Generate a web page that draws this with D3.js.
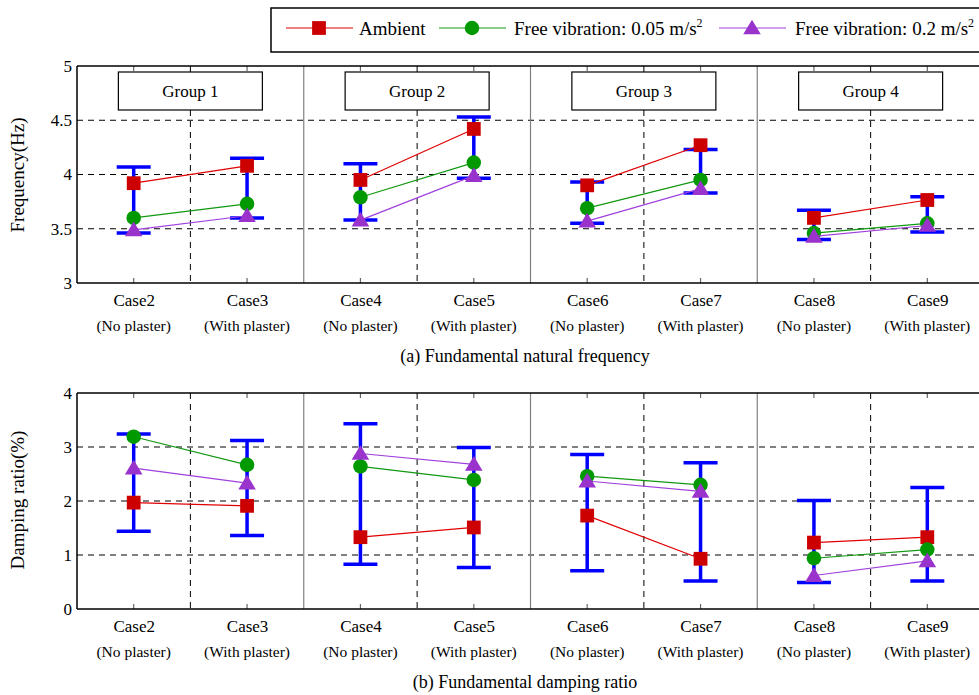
<!DOCTYPE html>
<html><head><meta charset="utf-8">
<script src="https://cdn.jsdelivr.net/npm/d3@7"></script>
<style>body{margin:0;background:#fff}svg{display:block}svg text{font-family:"Liberation Serif",Tinos,"Times New Roman",Times,"Nimbus Roman","DejaVu Serif",serif;fill:#000}</style>
</head><body>
<svg id="chart" width="979" height="695"></svg>
<script>
const categories = ["Case2","Case3","Case4","Case5","Case6","Case7","Case8","Case9"];
const subLabels = ["(No plaster)","(With plaster)","(No plaster)","(With plaster)","(No plaster)","(With plaster)","(No plaster)","(With plaster)"];
const groups = ["Group 1","Group 2","Group 3","Group 4"];
const seriesNames = ["Ambient","Free vibration: 0.05 m/s","Free vibration: 0.2 m/s"];

const freqAmbient = [3.92,4.08,3.95,4.42,3.90,4.27,3.60,3.765];
const freqFree005 = [3.60,3.73,3.79,4.11,3.69,3.95,3.46,3.55];
const freqFree02  = [3.49,3.62,3.58,3.99,3.57,3.87,3.43,3.53];
const freqErrHigh = [4.07,4.15,4.10,4.53,3.93,4.23,3.67,3.795];
const freqErrLow  = [3.46,3.60,3.58,3.965,3.55,3.83,3.40,3.47];

const dampAmbient = [1.97,1.91,1.33,1.51,1.73,0.93,1.23,1.33];
const dampFree005 = [3.19,2.67,2.64,2.39,2.46,2.30,0.94,1.10];
const dampFree02  = [2.61,2.33,2.88,2.68,2.37,2.18,0.62,0.89];
const dampErrHigh = [3.24,3.12,3.43,2.99,2.86,2.71,2.01,2.25];
const dampErrLow  = [1.44,1.36,0.83,0.77,0.71,0.52,0.49,0.52];

const freqTicks = [3,3.5,4,4.5,5];
const freqTickLabels = ["3","3.5","4","4.5","5"];
const dampTicks = [0,1,2,3,4];
const dampTickLabels = ["0","1","2","3","4"];

const colors = ["#cc0000","#009900","#9933cc"];
const lineColors = ["#e00000","#119911","#a040dd"];
const errColor = "#0000ff";
const FONT = '"Liberation Serif", Tinos, "Times New Roman", Times, "DejaVu Serif", serif';

const svg = d3.select("#chart");
const x = d3.scaleLinear().domain([-0.5, 7.5]).range([77, 984]);

const triType = { draw(ctx, size){ const s = Math.sqrt(size); ctx.moveTo(0,-s*0.55); ctx.lineTo(s*0.58,s*0.42); ctx.lineTo(-s*0.58,s*0.42); ctx.closePath(); } };
const symbols = [d3.symbolSquare, d3.symbolCircle, triType];
const symSizes = [190, 165, 230];

function panel(cfg){
  const y = d3.scaleLinear().domain(cfg.domain).range([cfg.bottom, cfg.top]);
  const g = svg.append("g").attr("font-family", FONT);
  const L = 77, R = 984;
  g.selectAll(".hg").data(cfg.ticks.slice(1,-1)).enter().append("line")
    .attr("x1",L).attr("x2",R).attr("y1",d=>y(d)).attr("y2",d=>y(d))
    .attr("stroke","#000").attr("stroke-width",1).attr("stroke-dasharray","6,5");
  [1,3,5,7].forEach(i=>{
    g.append("line").attr("x1",x(i-0.5)).attr("x2",x(i-0.5)).attr("y1",cfg.top).attr("y2",cfg.bottom)
      .attr("stroke","#000").attr("stroke-width",1).attr("stroke-dasharray","6,5");
  });
  [2,4,6].forEach(i=>{
    g.append("line").attr("x1",x(i-0.5)).attr("x2",x(i-0.5)).attr("y1",cfg.top).attr("y2",cfg.bottom)
      .attr("stroke","#808080").attr("stroke-width",1.2);
  });
  categories.forEach((c,i)=>{
    g.append("line").attr("x1",x(i)).attr("x2",x(i)).attr("y1",cfg.top).attr("y2",cfg.top+5).attr("stroke","#666").attr("stroke-width",1.2);
    g.append("line").attr("x1",x(i)).attr("x2",x(i)).attr("y1",cfg.bottom).attr("y2",cfg.bottom-5).attr("stroke","#666").attr("stroke-width",1.2);
  });
  g.append("line").attr("x1",L).attr("x2",R).attr("y1",cfg.top).attr("y2",cfg.top).attr("stroke","#000").attr("stroke-width",1.3);
  g.append("line").attr("x1",L).attr("x2",R).attr("y1",cfg.bottom).attr("y2",cfg.bottom).attr("stroke","#000").attr("stroke-width",1.5);
  g.append("line").attr("x1",L).attr("x2",L).attr("y1",cfg.top).attr("y2",cfg.bottom).attr("stroke","#000").attr("stroke-width",1.5);

  const ya = g.append("g").attr("transform",`translate(${L},0)`)
    .call(d3.axisLeft(y).tickValues(cfg.ticks).tickSize(0).tickPadding(5).tickFormat((d,i)=>cfg.tickLabels[i]));
  ya.attr("font-family", FONT).attr("font-size", 17);
  ya.select(".domain").remove();
  ya.selectAll("text").attr("fill","#000");

  const xa = g.append("g").attr("transform",`translate(0,${cfg.bottom})`)
    .call(d3.axisBottom(x).tickValues(d3.range(8)).tickSize(0).tickPadding(11).tickFormat(i=>categories[i]));
  xa.attr("font-family", FONT).attr("font-size", 17);
  xa.select(".domain").remove();
  xa.selectAll("text").attr("fill","#000");
  g.selectAll(".sub").data(subLabels).enter().append("text")
    .attr("x",(d,i)=>x(i)).attr("y",cfg.bottom+48).attr("text-anchor","middle")
    .attr("font-size",15.5).text(d=>d);
  g.append("text").attr("x",525).attr("y",cfg.bottom+79).attr("text-anchor","middle")
    .attr("font-size",18).text(cfg.caption);
  g.append("text").attr("transform",`translate(24,${cfg.ylabelY}) rotate(-90)`)
    .attr("text-anchor","middle").attr("font-size",19).text(cfg.ylabel);

  if(cfg.groupBoxes){
    groups.forEach((gn,k)=>{
      const cx = x(2*k+0.5);
      g.append("rect").attr("x",cx-72).attr("y",72).attr("width",144).attr("height",38)
        .attr("fill","#fff").attr("stroke","#000").attr("stroke-width",1.2);
      g.append("text").attr("x",cx).attr("y",97).attr("text-anchor","middle").attr("font-size",17).text(gn);
    });
  }

  const eb = g.append("g");
  categories.forEach((c,i)=>{
    const xi = x(i);
    eb.append("line").attr("x1",xi).attr("x2",xi).attr("y1",y(cfg.hi[i])).attr("y2",y(cfg.lo[i])).attr("stroke",errColor).attr("stroke-width",3.5);
    [cfg.hi[i],cfg.lo[i]].forEach(v=>{
      eb.append("line").attr("x1",xi-17).attr("x2",xi+17).attr("y1",y(v)).attr("y2",y(v)).attr("stroke",errColor).attr("stroke-width",3.5);
    });
  });
  cfg.series.forEach((vals,s)=>{
    for(let k=0;k<4;k++){
      const line = d3.line().x((d,i)=>x(2*k+i)).y(d=>y(d));
      g.append("path").attr("d",line(vals.slice(2*k,2*k+2)))
        .attr("fill","none").attr("stroke",lineColors[s]).attr("stroke-width",1.2);
    }
    g.selectAll(null).data(vals).enter().append("path")
      .attr("transform",(d,i)=>`translate(${x(i)},${y(d)})`)
      .attr("d",d3.symbol().type(symbols[s]).size(symSizes[s])())
      .attr("fill",colors[s]);
  });
}

panel({domain:[3,5],top:66,bottom:283,ticks:freqTicks,tickLabels:freqTickLabels,
  hi:freqErrHigh,lo:freqErrLow,series:[freqAmbient,freqFree005,freqFree02],
  caption:"(a) Fundamental natural frequency",ylabel:"Frequency(Hz)",ylabelY:175,groupBoxes:true});
panel({domain:[0,4],top:393,bottom:609,ticks:dampTicks,tickLabels:dampTickLabels,
  hi:dampErrHigh,lo:dampErrLow,series:[dampAmbient,dampFree005,dampFree02],
  caption:"(b) Fundamental damping ratio",ylabel:"Damping ratio(%)",ylabelY:500,groupBoxes:false});

const lg = svg.append("g").attr("font-family", FONT);
lg.append("rect").attr("x",271).attr("y",8).attr("width",720).attr("height",44).attr("fill","#fff").attr("stroke","#000").attr("stroke-width",1.5);
const legX = [286, 439, 719];
const legTextX = [359, 514, 795];
seriesNames.forEach((n,s)=>{
  lg.append("line").attr("x1",legX[s]).attr("x2",legX[s]+67).attr("y1",28).attr("y2",28).attr("stroke",lineColors[s]).attr("stroke-width",1.2);
  lg.append("path").attr("transform",`translate(${legX[s]+33},28)`).attr("d",d3.symbol().type(symbols[s]).size(symSizes[s])()).attr("fill",colors[s]);
  const t = lg.append("text").attr("x",legTextX[s]).attr("y",35).attr("font-size",19).text(n);
  if(s>0) t.append("tspan").attr("dy",-8).attr("font-size",12).text("2");
});
</script>
</body></html>
